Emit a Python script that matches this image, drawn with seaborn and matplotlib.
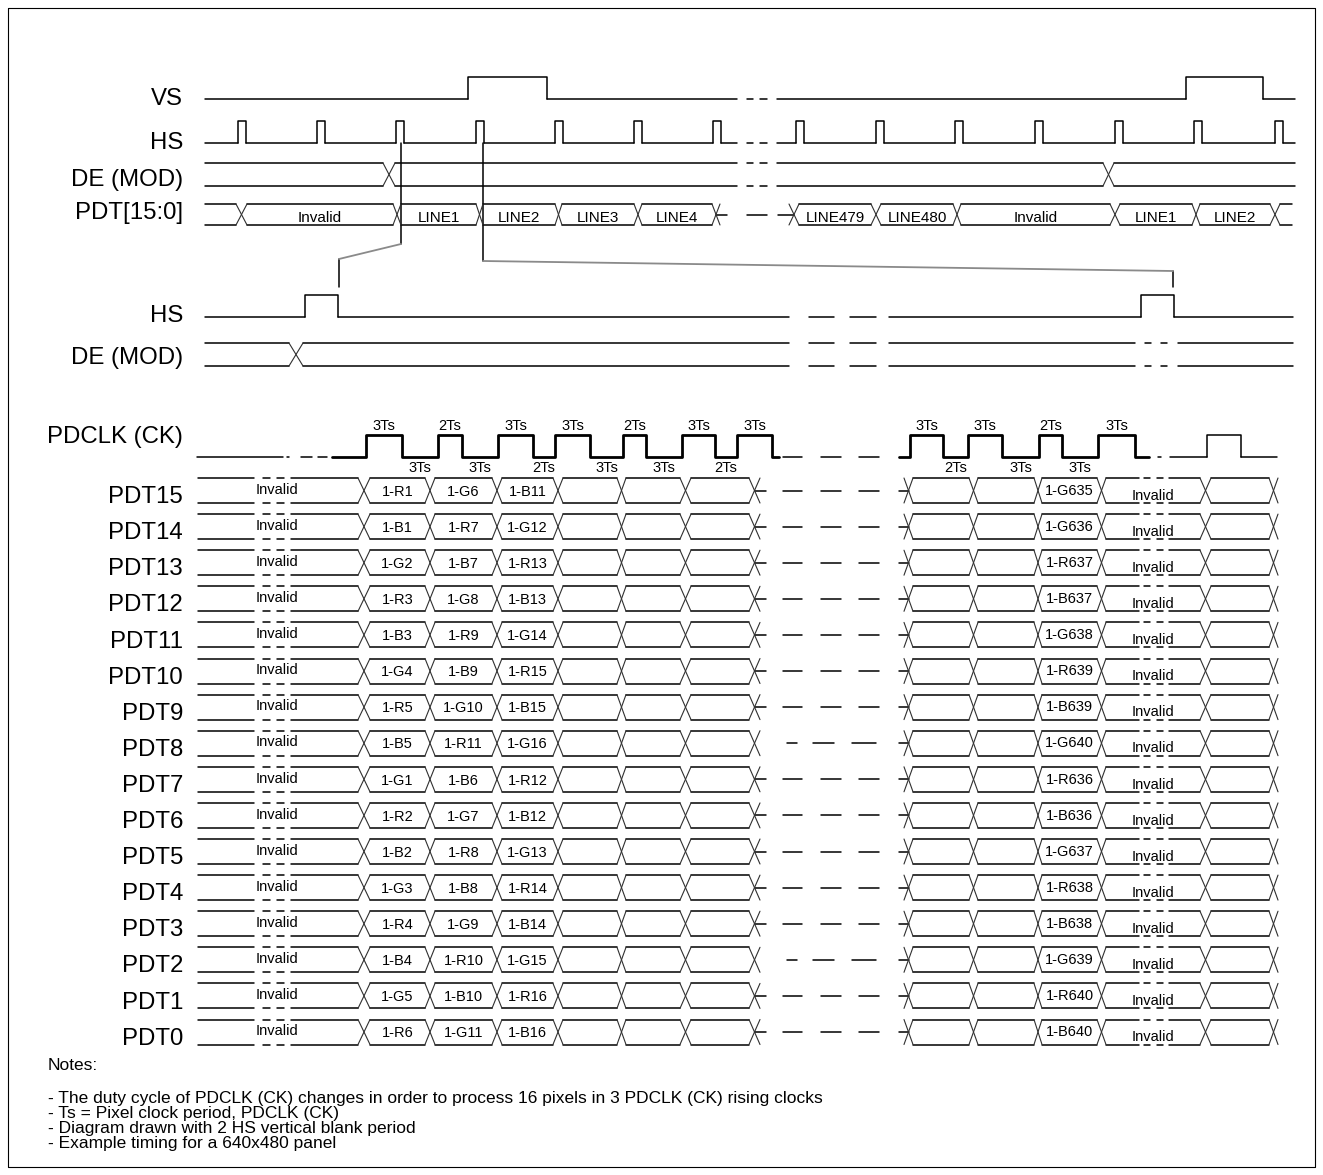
import numpy as np
import pandas as pd
import matplotlib
matplotlib.use('Agg')
import matplotlib.pyplot as plt
import seaborn as sns

sns.set_style('white')
plt.rcParams['font.family'] = ['Liberation Sans', 'DejaVu Sans']

# ---- timing data (pixel time axis of the drawing) ----
top_names = ['VS', 'HS', 'DE (MOD)', 'PDT[15:0]']
vs_pulses = [(468, 547), (1186, 1263)]
hs_rises = [238, 317, 396, 476, 555, 634, 713, 796, 876, 955, 1035, 1115, 1194, 1275]
hs_width = 8
de_cross = [(383, 395), (1103, 1114)]
bus_cross = [(236, 247), (393, 401), (476, 483), (555, 562), (634, 642), (712, 720),
             (789, 799), (871, 881), (953, 961), (1110, 1120), (1192, 1200), (1270, 1280)]
bus_labels = ['Invalid', 'LINE1', 'LINE2', 'LINE3', 'LINE4', '',
              'LINE479', 'LINE480', 'Invalid', 'LINE1', 'LINE2']

mid_names = ['HS', 'DE (MOD)']
hs2_pulses = [(305, 338), (1141, 1174)]
de2_cross = (289, 303)

clk_rise_l = [366, 438, 498, 555, 623, 682, 737]
clk_fall_l = [402, 462, 533, 590, 646, 715, 772]
clk_rise_r = [910, 968, 1039, 1098]
clk_fall_r = [943, 1002, 1062, 1135]
clk_high_l = ['3Ts', '2Ts', '3Ts', '3Ts', '2Ts', '3Ts', '3Ts']
clk_low_l = ['3Ts', '3Ts', '2Ts', '3Ts', '3Ts', '2Ts']
clk_high_r = ['3Ts', '3Ts', '2Ts', '3Ts']
clk_low_r = ['2Ts', '3Ts', '3Ts']

pdt_names = ['PDT%d' % i for i in range(15, -1, -1)]
col1 = ['1-R1', '1-B1', '1-G2', '1-R3', '1-B3', '1-G4', '1-R5', '1-B5',
        '1-G1', '1-R2', '1-B2', '1-G3', '1-R4', '1-B4', '1-G5', '1-R6']
col2 = ['1-G6', '1-R7', '1-B7', '1-G8', '1-R9', '1-B9', '1-G10', '1-R11',
        '1-B6', '1-G7', '1-R8', '1-B8', '1-G9', '1-R10', '1-B10', '1-G11']
col3 = ['1-B11', '1-G12', '1-R13', '1-B13', '1-G14', '1-R15', '1-B15', '1-G16',
        '1-R12', '1-B12', '1-G13', '1-R14', '1-B14', '1-G15', '1-R16', '1-B16']
col_last = ['1-G635', '1-G636', '1-R637', '1-B637', '1-G638', '1-R639', '1-B639', '1-G640',
            '1-R636', '1-B636', '1-G637', '1-R638', '1-B638', '1-G639', '1-R640', '1-B640']
data_cross_l = [(358, 370), (425, 435), (492, 502), (553, 563), (617, 626), (680, 691), (749, 760)]
data_cross_r = [(904, 913), (969, 978), (1034, 1042), (1097, 1106), (1200, 1211), (1269, 1278)]

notes = ['- The duty cycle of PDCLK (CK) changes in order to process 16 pixels in 3 PDCLK (CK) rising clocks',
         '- Ts = Pixel clock period, PDCLK (CK)',
         '- Diagram drawn with 2 HS vertical blank period',
         '- Example timing for a 640x480 panel']

# ---- segment builders ----
segs = []


def add(style, pts):
    segs.append((style, pts))


def hcut(a, b, y, cut=None, style='wave'):
    if cut is None or b <= cut[0] or a >= cut[1]:
        add(style, [(a, y), (b, y)])
        return
    if a < cut[0]:
        add(style, [(a, y), (cut[0], y)])
    if b > cut[1]:
        add(style, [(cut[1], y), (b, y)])


def dashes(ds, y, style='wave'):
    for a, b in ds:
        add(style, [(a, y), (b, y)])


def pulse_wave(x0, x1, ylo, yhi, pulses, cut=None, style='wave'):
    x = x0
    for r, f in pulses:
        hcut(x, r, ylo, cut, style)
        add(style, [(r, ylo), (r, yhi), (f, yhi), (f, ylo)])
        x = f
    hcut(x, x1, ylo, cut, style)


def cross(c, yt, yb):
    add('cross', [(c[0], yt), (c[1], yb)])
    add('cross', [(c[0], yb), (c[1], yt)])


def rails(a, b, yt, yb, cut=None, ds=()):
    hcut(a, b, yt, cut)
    hcut(a, b, yb, cut)
    dashes(ds, yt)
    dashes(ds, yb)


def clock(rises, falls, ylo, yhi, x0, x1):
    pts = [(x0, ylo)]
    for r, f in zip(rises, falls):
        pts += [(r, ylo), (r, yhi), (f, yhi), (f, ylo)]
    pts.append((x1, ylo))
    add('bold', pts)


texts = []


def label(x, yc, s, size, ha='center'):
    texts.append((x, yc, s, size, ha))


# ---- top section ----
top_cut = (737, 777)
top_dash = [(747, 753), (760, 767)]
pulse_wave(205, 1295, 99, 77, vs_pulses, top_cut)
dashes(top_dash, 99)
pulse_wave(205, 1295, 143, 121, [(r, r + hs_width) for r in hs_rises], top_cut)
dashes(top_dash, 143)
rails(205, de_cross[0][0], 163, 186)
cross(de_cross[0], 163, 186)
rails(de_cross[0][1], de_cross[1][0], 163, 186, top_cut, top_dash)
cross(de_cross[1], 163, 186)
rails(de_cross[1][1], 1295, 163, 186)

bt, bb = 204, 225
bm = (bt + bb) / 2
rails(205, bus_cross[0][0], bt, bb)
for i, c in enumerate(bus_cross):
    cross(c, bt, bb)
    if i + 1 < len(bus_cross):
        nxt = bus_cross[i + 1]
        lab = bus_labels[i]
        if lab == '':
            add('wave', [((c[0] + c[1]) / 2, bm), (727, bm)])
            dashes([(747, 767)], bm)
            add('wave', [(778, bm), ((nxt[0] + nxt[1]) / 2, bm)])
        else:
            rails(c[1], nxt[0], bt, bb)
            label((c[1] + nxt[0]) / 2, bm + 2, lab, 11)
rails(bus_cross[-1][1], 1292, bt, bb)

# links from the top HS to the expanded HS
add('wave', [(401, 143), (401, 244)])
add('link', [(401, 244), (339, 259)])
add('wave', [(339, 259), (339, 287)])
add('wave', [(483, 143), (483, 261)])
add('link', [(483, 261), (1173, 271)])
add('wave', [(1173, 271), (1173, 287)])

# ---- expanded line ----
mid_cut = (789, 889)
mid_dash = [(809, 834), (850, 876)]
pulse_wave(205, 1293, 317, 295, hs2_pulses, mid_cut)
dashes(mid_dash, 317)
rails(205, de2_cross[0], 343, 366)
cross(de2_cross, 343, 366)
rails(de2_cross[1], 1135, 343, 366, mid_cut, mid_dash)
dashes([(1145, 1151), (1161, 1167)], 343)
dashes([(1145, 1151), (1161, 1167)], 366)
rails(1178, 1293, 343, 366)

# ---- pixel clock ----
ck_lo, ck_hi = 457, 435
add('wave', [(197, ck_lo), (283, ck_lo)])
dashes([(287, 289), (301, 312), (318, 327)], ck_lo)
clock(clk_rise_l, clk_fall_l, ck_lo, ck_hi, 332, 779)
dashes([(783, 802), (821, 841), (859, 879)], ck_lo)
clock(clk_rise_r, clk_fall_r, ck_lo, ck_hi, 899, 1149)
dashes([(1158, 1161)], ck_lo)
pulse_wave(1170, 1277, ck_lo, ck_hi, [(1207, 1241)])
for r, f, s in zip(clk_rise_l, clk_fall_l, clk_high_l):
    label((r + f) / 2, 425, s, 10.5)
for f, r, s in zip(clk_fall_l, clk_rise_l[1:], clk_low_l):
    label((f + r) / 2, 467, s, 10.5)
for r, f, s in zip(clk_rise_r, clk_fall_r, clk_high_r):
    label((r + f) / 2, 425, s, 10.5)
for f, r, s in zip(clk_fall_r, clk_rise_r[1:], clk_low_r):
    label((f + r) / 2, 467, s, 10.5)

# ---- data lines ----
row_y0, row_step, half = 490.5, 36.1, 12.5
for k, name in enumerate(pdt_names):
    yc = row_y0 + k * row_step
    yt, yb = yc - half, yc + half
    rails(198, data_cross_l[0][0], yt, yb, (254, 291), [(263, 270), (277, 284)])
    label(277, yc - 2, 'Invalid', 10.5)
    cells = [col1[k], col2[k], col3[k], '', '', '']
    for i, c in enumerate(data_cross_l):
        cross(c, yt, yb)
        if i + 1 < len(data_cross_l):
            nxt = data_cross_l[i + 1]
            rails(c[1], nxt[0], yt, yb)
            if cells[i]:
                label((c[1] + nxt[0]) / 2, yc, cells[i], 10.5)
    if name in ('PDT8', 'PDT2'):
        dashes([(787, 797), (813, 834), (852, 876)], yc)
    else:
        add('wave', [((data_cross_l[-1][0] + data_cross_l[-1][1]) / 2, yc), (766, yc)])
        dashes([(783, 802), (821, 841), (859, 879)], yc)
    add('wave', [(899, yc), ((data_cross_r[0][0] + data_cross_r[0][1]) / 2, yc)])
    for i, c in enumerate(data_cross_r):
        cross(c, yt, yb)
        if i + 1 < len(data_cross_r):
            nxt = data_cross_r[i + 1]
            if i == 3:
                rails(c[1], nxt[0], yt, yb, (1139, 1169), [(1144, 1150), (1157, 1163)])
                label((c[1] + nxt[0]) / 2, yc + 4, 'Invalid', 10.5)
            else:
                rails(c[1], nxt[0], yt, yb)
            if i == 2:
                label((c[1] + nxt[0]) / 2, yc - 1, col_last[k], 10.5)

# frame
add('frame', [(8, 8), (1315, 8), (1315, 1167), (8, 1167), (8, 8)])

# ---- draw ----
rows = []
for i, (style, pts) in enumerate(segs):
    for x, y in pts:
        rows.append((i, style, x, y))
df = pd.DataFrame(rows, columns=['seg', 'style', 'x', 'y'])

fig = plt.figure(figsize=(13.23, 11.75), dpi=100)
ax = fig.add_axes([0, 0, 1, 1])
styles = {
    'frame': dict(color='black', linewidth=0.8),
    'wave': dict(color='black', linewidth=1.1),
    'cross': dict(color='#303030', linewidth=0.8),
    'link': dict(color='#8a8a8a', linewidth=1.3),
    'bold': dict(color='black', linewidth=2.0),
}
for st, kw in styles.items():
    sub = df[df['style'] == st]
    sns.lineplot(data=sub, x='x', y='y', units='seg', estimator=None, sort=False,
                 ax=ax, legend=False, **kw)


def put(x, yc, s, size, ha='center'):
    cap = 0.716 * size * 100 / 72
    ax.text(x, yc + cap / 2, s, fontsize=size, ha=ha, va='baseline', color='black')


for x, yc, s, size, ha in texts:
    put(x, yc, s, size, ha)

name_size = 17.3
for s, yc in zip(top_names, [96, 140, 177, 210]):
    put(183, yc, s, name_size, 'right')
for s, yc in zip(mid_names, [313, 355]):
    put(183, yc, s, name_size, 'right')
put(183, 434, 'PDCLK (CK)', name_size, 'right')
for k, s in enumerate(pdt_names):
    put(183, row_y0 + k * row_step + 4, s, name_size, 'right')

put(48, 1064, 'Notes:', 12.5, 'left')
for s, yc in zip(notes, [1097, 1112, 1127, 1142]):
    put(48, yc, s, 12.5, 'left')

ax.set_xlim(0, 1323)
ax.set_ylim(1175, 0)
ax.axis('off')
fig.savefig('out.png', dpi=100)
